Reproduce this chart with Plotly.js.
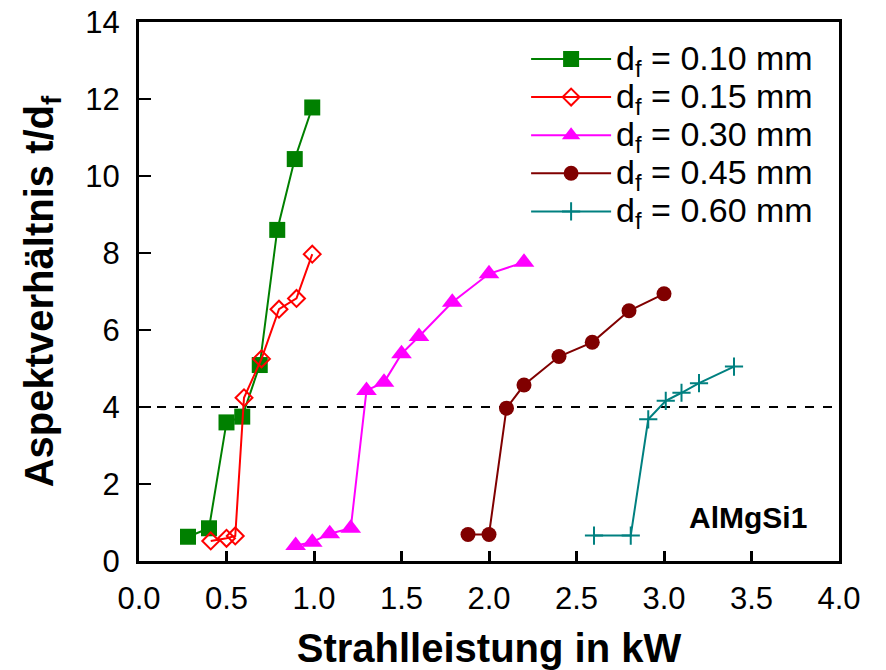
<!DOCTYPE html>
<html>
<head>
<meta charset="utf-8">
<script src="https://cdn.plot.ly/plotly-3.0.1.min.js"></script>
<style>html,body{margin:0;padding:0;background:#fff;}#chart{width:886px;height:670px;}</style>
</head>
<body>
<div id="chart"></div>
<script>
// Strahlleistung (kW) and Aspektverhältnis t/d_f per fibre diameter
const x010 = [0.28, 0.40, 0.50, 0.59, 0.69, 0.79, 0.89, 0.99];
const y010 = [0.63, 0.85, 3.60, 3.75, 5.09, 8.60, 10.44, 11.78];
const x015 = [0.41, 0.50, 0.55, 0.60, 0.70, 0.80, 0.90, 0.99];
const y015 = [0.52, 0.59, 0.65, 4.24, 5.25, 6.54, 6.82, 7.97];
const x030 = [0.895, 0.99, 1.09, 1.21, 1.30, 1.40, 1.50, 1.60, 1.79, 2.00, 2.20];
const y030 = [0.40, 0.49, 0.71, 0.85, 4.43, 4.64, 5.38, 5.83, 6.72, 7.46, 7.76];
const x045 = [1.88, 2.00, 2.10, 2.20, 2.40, 2.59, 2.80, 3.00];
const y045 = [0.69, 0.69, 3.97, 4.57, 5.31, 5.68, 6.50, 6.94];
const x060 = [2.60, 2.81, 2.91, 3.01, 3.10, 3.20, 3.40];
const y060 = [0.66, 0.66, 3.68, 4.16, 4.37, 4.62, 5.05];
const seriesNames = ['d<sub>f</sub> = 0.10 mm', 'd<sub>f</sub> = 0.15 mm', 'd<sub>f</sub> = 0.30 mm', 'd<sub>f</sub> = 0.45 mm', 'd<sub>f</sub> = 0.60 mm'];
const threshold = 4;
const materialLabel = 'AlMgSi1';

const font = 'Arial, "Liberation Sans", sans-serif';
const legendName = s => '<span style="font-size:34px">' + s + '</span>';
const traces = [
  {x: x010, y: y010, name: legendName(seriesNames[0]), mode: 'lines+markers',
   line: {color: '#008000', width: 2}, marker: {symbol: 'square', size: 16, color: '#008000'}},
  {x: x015, y: y015, name: legendName(seriesNames[1]), mode: 'lines+markers',
   line: {color: '#FF0000', width: 2}, marker: {symbol: 'diamond-open', size: 13, color: '#FF0000', line: {width: 2, color: '#FF0000'}}},
  {x: x030, y: y030, name: legendName(seriesNames[2]), mode: 'lines+markers',
   line: {color: '#FF00FF', width: 2}, marker: {symbol: 'triangle-up', size: 18, color: '#FF00FF'}},
  {x: x045, y: y045, name: legendName(seriesNames[3]), mode: 'lines+markers',
   line: {color: '#800000', width: 2}, marker: {symbol: 'circle', size: 15, color: '#800000'}},
  {x: x060, y: y060, name: legendName(seriesNames[4]), mode: 'lines+markers',
   line: {color: '#008080', width: 2}, marker: {symbol: 'cross-thin', size: 13, color: '#008080', line: {width: 2, color: '#008080'}}}
];

const layout = {
  width: 886, height: 670,
  margin: {l: 139, r: 47, t: 22, b: 109, pad: 0},
  paper_bgcolor: '#fff', plot_bgcolor: '#fff',
  font: {family: font, color: '#000'},
  showlegend: true,
  legend: {x: 0.553, y: 0.976, xanchor: 'left', yanchor: 'top', bgcolor: 'rgba(0,0,0,0)',
           font: {family: font, size: 27, color: '#000'}, itemwidth: 80, tracegroupgap: 0},
  xaxis: {range: [0, 4], dtick: 0.5, tickformat: '.1f', showgrid: false, zeroline: false,
          showline: true, linecolor: '#000', linewidth: 3, mirror: true,
          ticks: 'inside', ticklen: 10, tickwidth: 3, tickcolor: '#000',
          tickfont: {family: font, size: 31, color: '#000'}, ticklabelstandoff: 8,
          title: {text: 'Strahlleistung in kW', font: {family: font, size: 40, color: '#000', weight: 'bold'}, standoff: 20}},
  yaxis: {range: [0, 14], dtick: 2, showgrid: false, zeroline: false,
          showline: true, linecolor: '#000', linewidth: 3, mirror: true,
          ticks: 'inside', ticklen: 12, tickwidth: 2, tickcolor: '#000',
          tickfont: {family: font, size: 31, color: '#000'}, ticklabelstandoff: 10,
          title: {text: 'Aspektverhältnis t/d<sub>f</sub>', font: {family: font, size: 40, color: '#000', weight: 'bold'}, standoff: 20}},
  shapes: [{type: 'line', xref: 'paper', x0: 0, x1: 1, yref: 'y', y0: threshold, y1: threshold,
            line: {color: '#000', width: 2, dash: 'dash'}, layer: 'below'}],
  annotations: [{x: 3.83, y: 1.12, xref: 'x', yref: 'y', xanchor: 'right', yanchor: 'middle', showarrow: false,
                 text: '<b>' + materialLabel + '</b>', font: {family: font, size: 30, color: '#000'}}]
};

Plotly.newPlot('chart', traces, layout, {displayModeBar: false, staticPlot: true});
</script>
</body>
</html>
